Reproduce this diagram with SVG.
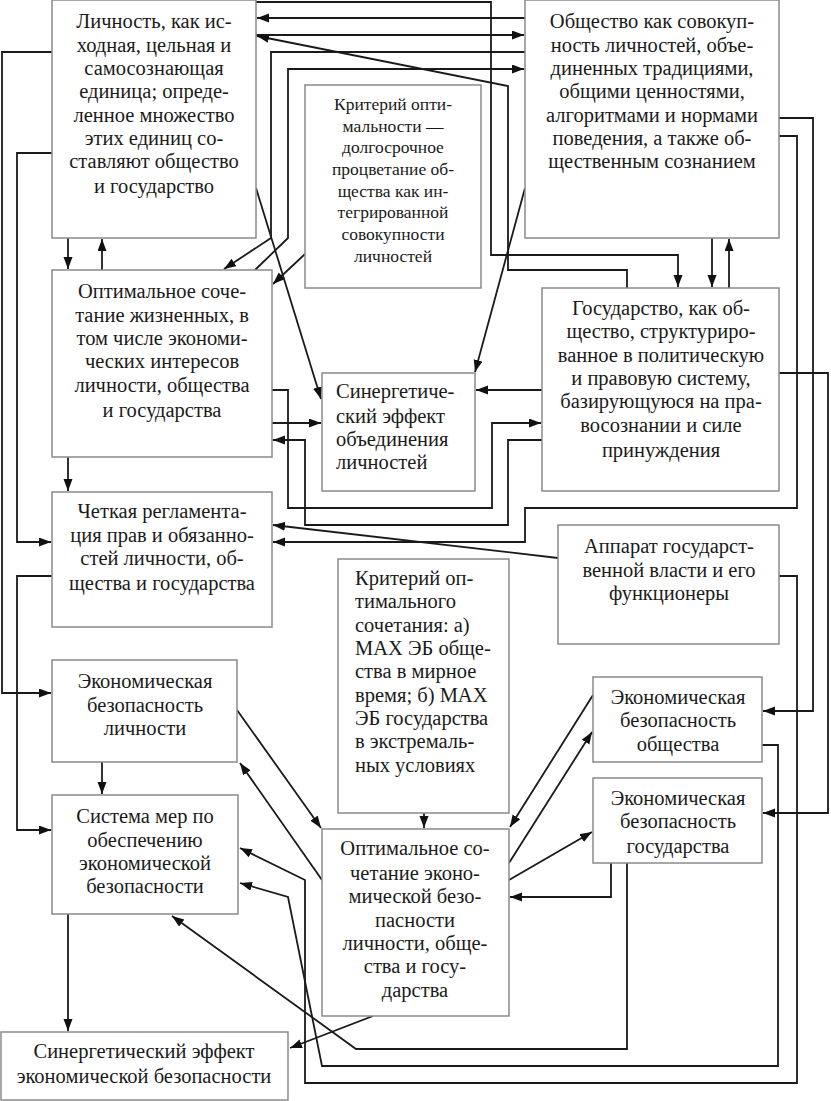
<svg xmlns="http://www.w3.org/2000/svg" width="831" height="1101" viewBox="0 0 831 1101">
<defs>
<marker id="ah" markerWidth="13" markerHeight="10" refX="12" refY="4.5" orient="auto" markerUnits="userSpaceOnUse">
<path d="M0,0 L12,4.5 L0,9 z" fill="#111"/>
</marker>
<style>
.box{fill:#fff;stroke:#8a8a8a;stroke-width:1.5}
.t{font-family:"Liberation Serif","Times New Roman",serif;font-size:20.5px;fill:#1a1a1a;text-anchor:middle}
.ts{font-family:"Liberation Serif","Times New Roman",serif;font-size:17.5px;fill:#1a1a1a;text-anchor:middle}
.tl{font-family:"Liberation Serif","Times New Roman",serif;font-size:20.5px;fill:#1a1a1a;text-anchor:start}
.c{fill:none;stroke:#1a1a1a;stroke-width:1.8}
.a{marker-end:url(#ah)}
</style>
</defs>
<rect width="831" height="1101" fill="#fff"/>

<g id="connectors">
<path class="c a" d="M256,2 H491 V255 H678 V287"/>
<path class="c a" d="M525,18 H257"/>
<path class="c a" d="M256,35 H524"/>
<path class="c a" d="M627,288 V270 H508 V86 L257,36"/>
<path class="c a" d="M525,52 H271 V238 L224,269"/>
<path class="c a" d="M255,270 L288,238 V69 H524"/>
<path class="c a" d="M305,254 L273,284"/>
<path class="c a" d="M256,188 L321,399"/>
<path class="c a" d="M525,188 L475,372"/>
<path class="c a" d="M68,238 V269"/>
<path class="c a" d="M102,270 V239"/>
<path class="c a" d="M712,238 V287"/>
<path class="c a" d="M729,288 V239"/>
<path class="c a" d="M68,457 V491"/>
<path class="c a" d="M272,423 H321"/>
<path class="c a" d="M542,390 H476"/>
<path class="c a" d="M272,390 H288 V508 H492 V423 H541"/>
<path class="c a" d="M542,440 H508 V525 H305 V440 H273"/>
<path class="c a" d="M779,136 H797 V508 H525 V542 H273"/>
<path class="c a" d="M558,558 L273,525"/>
<path class="c a" d="M779,118 H813 V711 H763"/>
<path class="c a" d="M779,373 H828 V813 H763"/>
<path class="c a" d="M779,576 H797 V1083 H305 V880 L240,848"/>
<path class="c a" d="M762,745 H778 V1066 H322 L288,897 L240,883"/>
<path class="c a" d="M627,863 V1049 H356 L172,916"/>
<path class="c a" d="M611,863 V897 H510"/>
<path class="c a" d="M509,880 L592,832"/>
<path class="c a" d="M509,863 L592,732"/>
<path class="c a" d="M593,695 L510,827"/>
<path class="c a" d="M424,813 V828"/>
<path class="c a" d="M237,710 L321,828"/>
<path class="c a" d="M322,880 L240,763"/>
<path class="c a" d="M102,762 V794"/>
<path class="c a" d="M52,52 H2 V693 H51"/>
<path class="c a" d="M52,153 H17 V542 H51"/>
<path class="c a" d="M52,576 H17 V830 H51"/>
<path class="c a" d="M68,914 V1031"/>
<path class="c a" d="M373,1016 L290,1048"/>
</g>

<g id="n1">
<rect class="box" x="52" y="0" width="204" height="238"/>
<text class="t" x="154" y="28">Личность, как ис-</text>
<text class="t" x="154" y="52">ходная, цельная и</text>
<text class="t" x="154" y="75">самосознающая</text>
<text class="t" x="154" y="98">единица; опреде-</text>
<text class="t" x="154" y="122">ленное множество</text>
<text class="t" x="154" y="145">этих единиц со-</text>
<text class="t" x="154" y="168">ставляют общество</text>
<text class="t" x="154" y="193">и государство</text>
</g>

<g id="n2">
<rect class="box" x="525" y="0" width="254" height="238"/>
<text class="t" x="652" y="28">Общество как совокуп-</text>
<text class="t" x="652" y="52">ность личностей, объе-</text>
<text class="t" x="652" y="75">диненных традициями,</text>
<text class="t" x="652" y="98">общими ценностями,</text>
<text class="t" x="652" y="122">алгоритмами и нормами</text>
<text class="t" x="652" y="145">поведения, а также об-</text>
<text class="t" x="652" y="168">щественным сознанием</text>
</g>

<g id="n3">
<rect class="box" x="305" y="85" width="176" height="203"/>
<text class="ts" x="393" y="110">Критерий опти-</text>
<text class="ts" x="393" y="132">мальности —</text>
<text class="ts" x="393" y="153">долгосрочное</text>
<text class="ts" x="393" y="175">процветание об-</text>
<text class="ts" x="393" y="197">щества как ин-</text>
<text class="ts" x="393" y="218">тегрированной</text>
<text class="ts" x="393" y="240">совокупности</text>
<text class="ts" x="393" y="262">личностей</text>
</g>

<g id="n4">
<rect class="box" x="52" y="270" width="220" height="187"/>
<text class="t" x="162" y="298">Оптимальное соче-</text>
<text class="t" x="162" y="322">тание жизненных, в</text>
<text class="t" x="162" y="345">том числе экономи-</text>
<text class="t" x="162" y="368">ческих интересов</text>
<text class="t" x="162" y="392">личности, общества</text>
<text class="t" x="162" y="417">и государства</text>
</g>

<g id="n5">
<rect class="box" x="322" y="373" width="153" height="118"/>
<text class="tl" x="336" y="398">Синергетиче-</text>
<text class="tl" x="336" y="423">ский эффект</text>
<text class="tl" x="336" y="446">объединения</text>
<text class="tl" x="336" y="469">личностей</text>
</g>

<g id="n6">
<rect class="box" x="542" y="288" width="237" height="203"/>
<text class="t" x="661" y="315">Государство, как об-</text>
<text class="t" x="661" y="338">щество, структуриро-</text>
<text class="t" x="661" y="362">ванное в политическую</text>
<text class="t" x="661" y="385">и правовую систему,</text>
<text class="t" x="661" y="408">базирующуюся на пра-</text>
<text class="t" x="661" y="432">восознании и силе</text>
<text class="t" x="661" y="457">принуждения</text>
</g>

<g id="n7">
<rect class="box" x="52" y="492" width="220" height="135"/>
<text class="t" x="162" y="518">Четкая регламента-</text>
<text class="t" x="162" y="542">ция прав и обязанно-</text>
<text class="t" x="162" y="565">стей личности, об-</text>
<text class="t" x="162" y="590">щества и государства</text>
</g>

<g id="n8">
<rect class="box" x="558" y="525" width="221" height="119"/>
<text class="t" x="669" y="553">Аппарат государст-</text>
<text class="t" x="669" y="577">венной власти и его</text>
<text class="t" x="669" y="600">функционеры</text>
</g>

<g id="n9">
<rect class="box" x="338" y="559" width="171" height="254"/>
<text class="tl" x="355" y="585">Критерий оп-</text>
<text class="tl" x="355" y="608">тимального</text>
<text class="tl" x="355" y="632">сочетания: а)</text>
<text class="tl" x="355" y="655">MAX ЭБ обще-</text>
<text class="tl" x="355" y="678">ства в мирное</text>
<text class="tl" x="355" y="702">время; б) MAX</text>
<text class="tl" x="355" y="725">ЭБ государства</text>
<text class="tl" x="355" y="748">в экстремаль-</text>
<text class="tl" x="355" y="772">ных условиях</text>
</g>

<g id="n10">
<rect class="box" x="52" y="660" width="185" height="102"/>
<text class="t" x="145" y="688">Экономическая</text>
<text class="t" x="145" y="712">безопасность</text>
<text class="t" x="145" y="735">личности</text>
</g>

<g id="n11">
<rect class="box" x="593" y="677" width="169" height="85"/>
<text class="t" x="678" y="704">Экономическая</text>
<text class="t" x="678" y="727">безопасность</text>
<text class="t" x="678" y="751">общества</text>
</g>

<g id="n12">
<rect class="box" x="593" y="778" width="169" height="85"/>
<text class="t" x="678" y="805">Экономическая</text>
<text class="t" x="678" y="828">безопасность</text>
<text class="t" x="678" y="853">государства</text>
</g>

<g id="n13">
<rect class="box" x="52" y="795" width="186" height="119"/>
<text class="t" x="145" y="823">Система мер по</text>
<text class="t" x="145" y="847">обеспечению</text>
<text class="t" x="145" y="870">экономической</text>
<text class="t" x="145" y="893">безопасности</text>
</g>

<g id="n14">
<rect class="box" x="322" y="829" width="187" height="187"/>
<text class="t" x="415" y="855">Оптимальное со-</text>
<text class="t" x="415" y="880">четание эконо-</text>
<text class="t" x="415" y="903">мической безо-</text>
<text class="t" x="415" y="927">пасности</text>
<text class="t" x="415" y="950">личности, обще-</text>
<text class="t" x="415" y="973">ства и госу-</text>
<text class="t" x="415" y="997">дарства</text>
</g>

<g id="n15">
<rect class="box" x="1" y="1032" width="287" height="68"/>
<text class="t" x="144" y="1058">Синергетический эффект</text>
<text class="t" x="144" y="1083">экономической безопасности</text>
</g>
</svg>
